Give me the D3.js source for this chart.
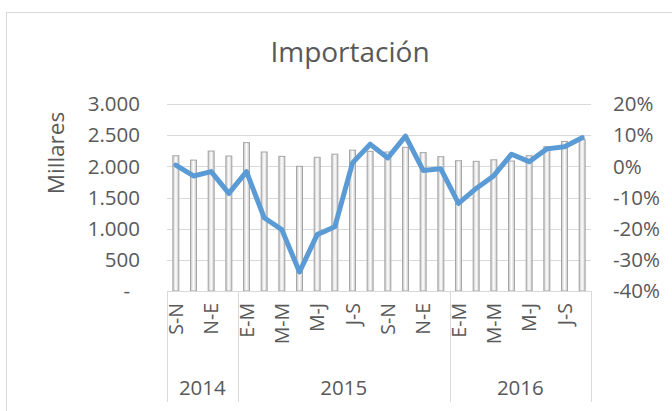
<!DOCTYPE html>
<html>
<head>
<meta charset="utf-8">
<script src="https://cdn.jsdelivr.net/npm/d3@7"></script>
<style>
  body { margin: 0; background: #fff; }
  svg text { font-family: 'Open Sans', sans-serif; fill: #595959; }
</style>
</head>
<body>
<div id="chart"></div>
<script>
// rolling three-month periods
const years = ['2014', '2015', '2016'];
const periods2014 = ['S-N', 'O-D', 'N-E', 'D-F'];
const periods2015 = ['E-M', 'F-A', 'M-M', 'A-J', 'M-J', 'J-A', 'J-S', 'A-O', 'S-N', 'O-D', 'N-E', 'D-F'];
const periods2016 = ['E-M', 'F-A', 'M-M', 'A-J', 'M-J', 'J-A', 'J-S', 'A-O'];

// imports, thousands
const importValues = [2170, 2100, 2245, 2165, 2380, 2230, 2160, 2000, 2145, 2195, 2260, 2240,
  2230, 2305, 2220, 2155, 2090, 2080, 2105, 2085, 2170, 2315, 2400, 2430];
// year-on-year change, %
const changeValues = [0.4, -3.1, -1.7, -8.7, -1.7, -16.5, -20.3, -33.9, -21.9, -19.4, 1.1, 7.1,
  2.7, 9.7, -1.3, -0.8, -11.9, -7.1, -3.0, 3.9, 1.5, 5.6, 6.3, 9.2];

const leftTicks = [0, 500, 1000, 1500, 2000, 2500, 3000];
const rightTicks = [-40, -30, -20, -10, 0, 10, 20];

const width = 672, height = 411;
const plot = { left: 167, right: 591, top: 104, bottom: 291 };

const groups = [
  { year: years[0], periods: periods2014 },
  { year: years[1], periods: periods2015 },
  { year: years[2], periods: periods2016 }
];

const rows = [];
groups.forEach(g => g.periods.forEach(p => rows.push({ year: g.year, period: p })));
rows.forEach((d, i) => {
  d.key = i;
  d.value = importValues[i];
  d.change = changeValues[i];
});

const svg = d3.select('#chart').append('svg')
  .attr('width', width)
  .attr('height', height);

// chart area border (runs off right and bottom edge)
svg.append('rect')
  .attr('x', 6.5).attr('y', 12.5)
  .attr('width', width + 20).attr('height', height + 20)
  .attr('fill', '#fff')
  .attr('stroke', '#d9d9d9');

const x = d3.scaleBand()
  .domain(rows.map(d => d.key))
  .range([plot.left, plot.right]);

const y = d3.scaleLinear().domain([0, 3000]).range([plot.bottom, plot.top]);
const y2 = d3.scaleLinear().domain([-40, 20]).range([plot.bottom, plot.top]);

// gridlines
svg.append('g')
  .selectAll('line')
  .data(leftTicks.slice(1))
  .enter().append('line')
  .attr('x1', plot.left).attr('x2', plot.right)
  .attr('y1', d => Math.round(y(d)) + 0.5)
  .attr('y2', d => Math.round(y(d)) + 0.5)
  .attr('stroke', '#d9d9d9');

// left axis labels
const fmt = d3.formatLocale({ decimal: ',', thousands: '.', grouping: [3], currency: ['', ''] }).format(',.0f');
svg.append('g')
  .selectAll('text')
  .data(leftTicks)
  .enter().append('text')
  .attr('x', d => d === 0 ? 130 : 140)
  .attr('y', d => y(d))
  .attr('dy', '0.35em')
  .attr('text-anchor', 'end')
  .style('font-size', '20.5px')
  .text(d => d === 0 ? '-' : fmt(d));

// right axis labels
svg.append('g')
  .selectAll('text')
  .data(rightTicks)
  .enter().append('text')
  .attr('x', 613)
  .attr('y', d => y2(d))
  .attr('dy', '0.35em')
  .attr('text-anchor', 'start')
  .style('font-size', '20.5px')
  .text(d => d + '%');

svg.append('text')
  .attr('transform', 'translate(64,153) rotate(-90)')
  .attr('text-anchor', 'middle')
  .style('font-size', '22.5px')
  .text('Millares');

svg.append('text')
  .attr('x', 350)
  .attr('y', 62)
  .attr('text-anchor', 'middle')
  .style('font-size', '28px')
  .text('Importación');

// bars
const grad = svg.append('defs').append('linearGradient')
  .attr('id', 'barFill')
  .attr('x1', '0').attr('x2', '1').attr('y1', '0').attr('y2', '0');
grad.append('stop').attr('offset', '0%').attr('stop-color', '#c4c4c4');
grad.append('stop').attr('offset', '50%').attr('stop-color', '#ffffff');
grad.append('stop').attr('offset', '100%').attr('stop-color', '#c4c4c4');

const barW = 6;
svg.append('g')
  .selectAll('rect')
  .data(rows)
  .enter().append('rect')
  .attr('x', d => x(d.key) + x.bandwidth() / 2 - barW / 2)
  .attr('y', d => y(d.value))
  .attr('width', barW)
  .attr('height', d => y(0) - y(d.value))
  .attr('fill', 'url(#barFill)')
  .attr('stroke', '#a6a6a6')
  .attr('stroke-width', 1);

// category axis
const axisG = svg.append('g');
axisG.append('line')
  .attr('x1', plot.left).attr('x2', plot.right)
  .attr('y1', plot.bottom + 0.5).attr('y2', plot.bottom + 0.5)
  .attr('stroke', '#d9d9d9');

let start = 0;
const bounds = [plot.left];
groups.forEach(g => {
  start += g.periods.length;
  bounds.push(start === rows.length ? plot.right : x(start));
});
axisG.selectAll('.sep')
  .data(bounds)
  .enter().append('line')
  .attr('class', 'sep')
  .attr('x1', d => Math.round(d) + 0.5).attr('x2', d => Math.round(d) + 0.5)
  .attr('y1', plot.bottom).attr('y2', 402)
  .attr('stroke', '#d9d9d9');

axisG.selectAll('.period')
  .data(rows.filter((d, i) => i % 2 === 0))
  .enter().append('text')
  .attr('class', 'period')
  .attr('transform', d => `translate(${x(d.key) + x.bandwidth() / 2 + 7},303) rotate(-90)`)
  .attr('text-anchor', 'end')
  .style('font-size', '19.5px')
  .text(d => d.period);

axisG.selectAll('.year')
  .data(groups)
  .enter().append('text')
  .attr('class', 'year')
  .attr('x', (d, i) => (bounds[i] + bounds[i + 1]) / 2)
  .attr('y', 395)
  .attr('text-anchor', 'middle')
  .style('font-size', '20.5px')
  .text(d => d.year);

// change line
const line = d3.line()
  .x(d => x(d.key) + x.bandwidth() / 2)
  .y(d => y2(d.change));

svg.append('path')
  .datum(rows)
  .attr('d', line)
  .attr('fill', 'none')
  .attr('stroke', '#5b9bd5')
  .attr('stroke-width', 5)
  .attr('stroke-linejoin', 'round')
  .attr('stroke-linecap', 'round');
</script>
</body>
</html>
